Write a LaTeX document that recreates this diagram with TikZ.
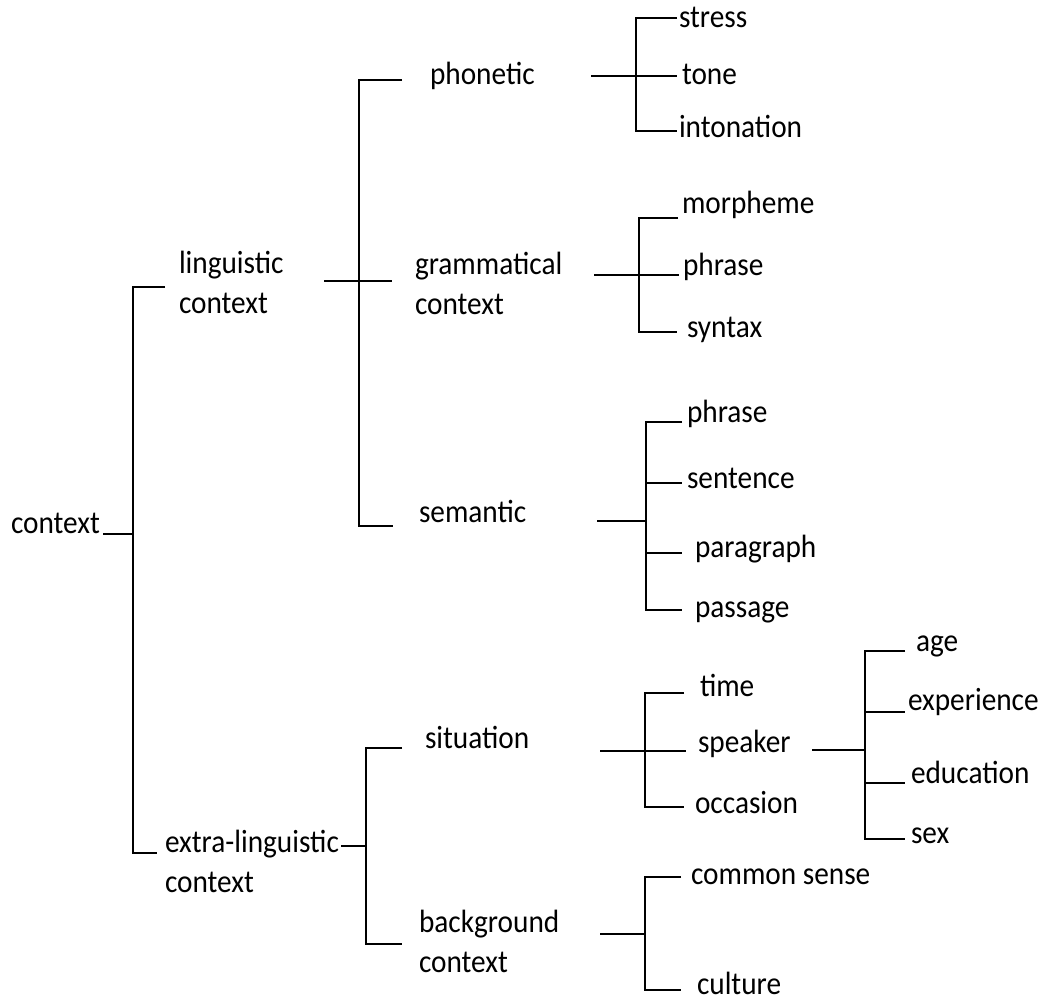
\documentclass[tikz,border=0pt]{standalone}
\usepackage{fontspec}
\setmainfont{Carlito}
\usepackage{graphicx}
\newcommand{\lbl}[1]{\scalebox{1}[1.1]{\begin{tabular}[t]{@{}l@{}}#1\end{tabular}}}
\newcommand{\lblone}[1]{\scalebox{1}[1.1]{#1}}
\begin{document}
\begin{tikzpicture}[x=1pt,y=-1pt,
  lab/.style={inner sep=0pt, outer sep=0pt, anchor=base west, font=\fontsize{29.3}{36.4}\selectfont},
  conn/.style={line width=1.8pt, line join=miter, black}]
\useasboundingbox (0,0) rectangle (1042,1002);
% labels
\node[lab] (context) at (11,533) {\lblone{context}};
\node[lab] (ling) at (179,273) {\lbl{linguistic\\context}};
\node[lab] (extra) at (165,852) {\lbl{extra-linguistic\\context}};
\node[lab] (phon) at (430,84) {\lblone{phonetic}};
\node[lab] (gram) at (415,274) {\lbl{grammatical\\context}};
\node[lab] (sem) at (419,522) {\lblone{semantic}};
\node[lab] (sit) at (425,748) {\lblone{situation}};
\node[lab] (back) at (419,932) {\lbl{background\\context}};
\node[lab] (stress) at (679,27) {\lblone{stress}};
\node[lab] (tone) at (682,84) {\lblone{tone}};
\node[lab] (inton) at (679,137) {\lblone{intonation}};
\node[lab] (morph) at (682,213) {\lblone{morpheme}};
\node[lab] (phrA) at (683,275) {\lblone{phrase}};
\node[lab] (syn) at (687,337) {\lblone{syntax}};
\node[lab] (phrB) at (687,422) {\lblone{phrase}};
\node[lab] (sent) at (687,488) {\lblone{sentence}};
\node[lab] (para) at (695,557) {\lblone{paragraph}};
\node[lab] (pass) at (695,617) {\lblone{passage}};
\node[lab] (time) at (700,696) {\lblone{time}};
\node[lab] (speak) at (698,752) {\lblone{speaker}};
\node[lab] (occ) at (695,813) {\lblone{occasion}};
\node[lab] (age) at (916,651) {\lblone{age}};
\node[lab] (exp) at (908,710) {\lblone{experience}};
\node[lab] (edu) at (911,783) {\lblone{education}};
\node[lab] (sex) at (911,843) {\lblone{sex}};
\node[lab] (comm) at (691,884) {\lblone{common sense}};
\node[lab] (cult) at (697,994) {\lblone{culture}};
% junction coordinates
\coordinate (c0) at (103,534);
\coordinate (c0v) at (133,534);
\coordinate (lingT) at (165,287);
\coordinate (extraT) at (157,853);
\coordinate (l0) at (324,281);
\coordinate (l1) at (392,281);
\coordinate (phonT) at (402,80);
\coordinate (semT) at (393,526);
\coordinate (p0) at (591,76);
\coordinate (p1) at (677,76);
\coordinate (stressT) at (677,18);
\coordinate (intonT) at (677,131);
\coordinate (g0) at (594,275);
\coordinate (g1) at (679,275);
\coordinate (morphT) at (678,218);
\coordinate (synT) at (677,332);
\coordinate (s0) at (597,521);
\coordinate (s0v) at (646,521);
\coordinate (phrBT) at (682,422);
\coordinate (sentT) at (682,483);
\coordinate (paraT) at (682,553);
\coordinate (passT) at (682,610);
\coordinate (e0) at (341,846);
\coordinate (e0v) at (366,846);
\coordinate (sitT) at (402,748);
\coordinate (backT) at (402,944);
\coordinate (t0) at (600,751);
\coordinate (t1) at (686,751);
\coordinate (timeT) at (684,693);
\coordinate (occT) at (684,807);
\coordinate (k0) at (812,750);
\coordinate (k0v) at (865,750);
\coordinate (ageT) at (905,651);
\coordinate (expT) at (905,712);
\coordinate (eduT) at (905,783);
\coordinate (sexT) at (905,839);
\coordinate (b0) at (600,934);
\coordinate (b0v) at (645,934);
\coordinate (commT) at (681,877);
\coordinate (cultT) at (681,990);
% connectors
\draw[conn] (c0) -- (c0v);
\draw[conn] (lingT) -- (133,287) -- (133,853) -- (extraT);
\draw[conn] (l0) -- (l1);
\draw[conn] (phonT) -- (359,80) -- (359,526) -- (semT);
\draw[conn] (p0) -- (p1);
\draw[conn] (stressT) -- (636,18) -- (636,131) -- (intonT);
\draw[conn] (g0) -- (g1);
\draw[conn] (morphT) -- (639,218) -- (639,332) -- (synT);
\draw[conn] (s0) -- (s0v);
\draw[conn] (phrBT) -- (646,422) -- (646,610) -- (passT);
\draw[conn] (646,483) -- (sentT);
\draw[conn] (646,553) -- (paraT);
\draw[conn] (e0) -- (e0v);
\draw[conn] (sitT) -- (366,748) -- (366,944) -- (backT);
\draw[conn] (t0) -- (t1);
\draw[conn] (timeT) -- (645,693) -- (645,807) -- (occT);
\draw[conn] (k0) -- (k0v);
\draw[conn] (ageT) -- (865,651) -- (865,839) -- (sexT);
\draw[conn] (865,712) -- (expT);
\draw[conn] (865,783) -- (eduT);
\draw[conn] (b0) -- (b0v);
\draw[conn] (commT) -- (645,877) -- (645,990) -- (cultT);
\end{tikzpicture}
\end{document}
